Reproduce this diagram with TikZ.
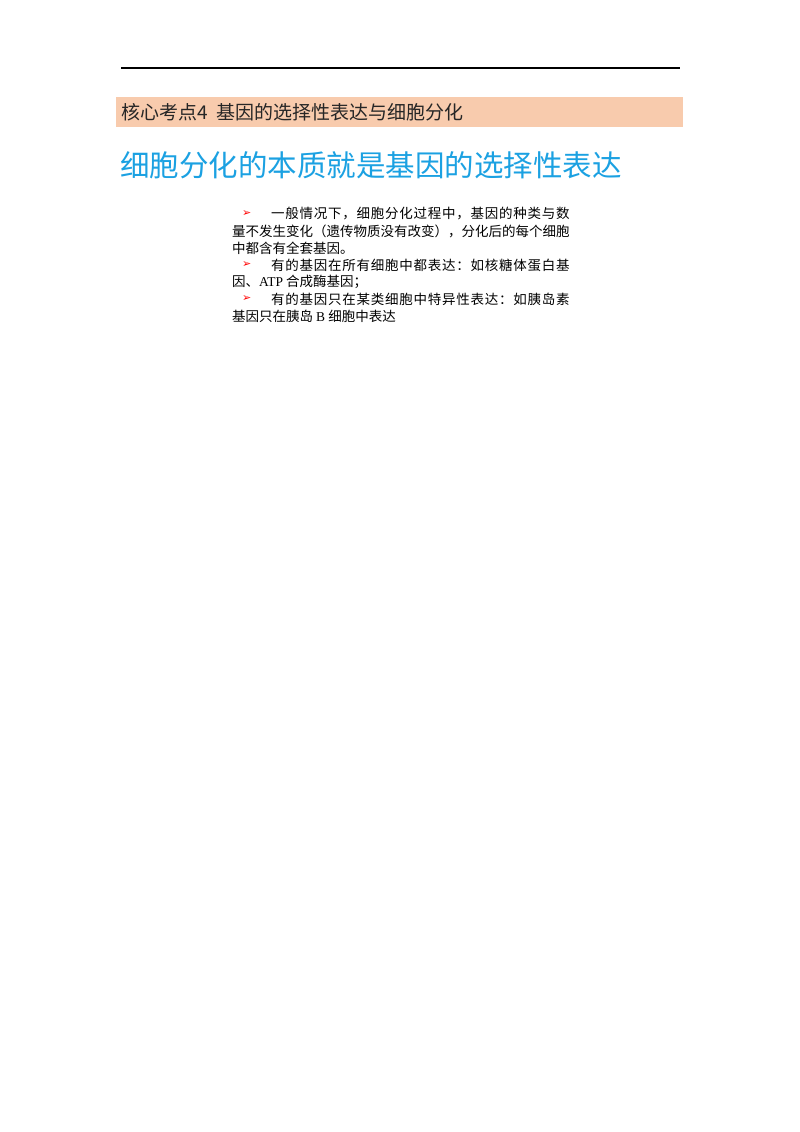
\documentclass[tikz,border=0pt]{standalone}
\usepackage{fontspec}
\newfontfamily\cjk{Noto Sans CJK SC}
\newfontfamily\cjkw[LetterSpace=5.5]{Noto Sans CJK SC}
\newfontfamily\djv{DejaVu Sans}
\setmainfont{Liberation Serif}
\definecolor{band}{HTML}{F8CBAD}
\definecolor{blueh}{HTML}{1BA1E2}
\begin{document}
\begin{tikzpicture}[x=1pt,y=-1pt,
 line/.style={anchor=west,inner sep=0pt,font=\cjk\fontsize{13.5}{13.5}\selectfont},
 linew/.style={anchor=west,inner sep=0pt,font=\cjkw\fontsize{13.5}{13.5}\selectfont},
 arr/.style={anchor=west,inner sep=0pt,text=red,font=\djv\fontsize{11}{11}\selectfont}]
\useasboundingbox[fill=white] (0,0) rectangle (800,1132);
\draw[line width=1.5pt] (121,68) -- (680,68);
\fill[band] (116,97) rectangle (683,127);
\node[anchor=west,inner sep=0pt,font=\cjk\fontsize{19}{19}\selectfont,text=black!85] (h) at (121,112) {核心考点4\ \ 基因的选择性表达与细胞分化};
\node[anchor=west,inner sep=0pt,font=\cjk\fontsize{29.5}{29.5}\selectfont,text=blueh] (t) at (120,165) {细胞分化的本质就是基因的选择性表达};
\node[arr] (a1) at (242,214) {➢};
\node[linew] (l1) at (271,214) {一般情况下，细胞分化过程中，基因的种类与数};
\node[line] (l2) at (232,231) {量不发生变化（遗传物质没有改变），分化后的每个细胞};
\node[line] (l3) at (232,248) {中都含有全套基因。};
\node[arr] (a2) at (242,265) {➢};
\node[linew] (l4) at (271,265) {有的基因在所有细胞中都表达：如核糖体蛋白基};
\node[line] (l5) at (232,282) {因、{\rmfamily ATP} 合成酶基因；};
\node[arr] (a3) at (242,299) {➢};
\node[linew] (l6) at (271,299) {有的基因只在某类细胞中特异性表达：如胰岛素};
\node[line] (l7) at (232,316) {基因只在胰岛 {\rmfamily B} 细胞中表达};
\end{tikzpicture}
\end{document}
